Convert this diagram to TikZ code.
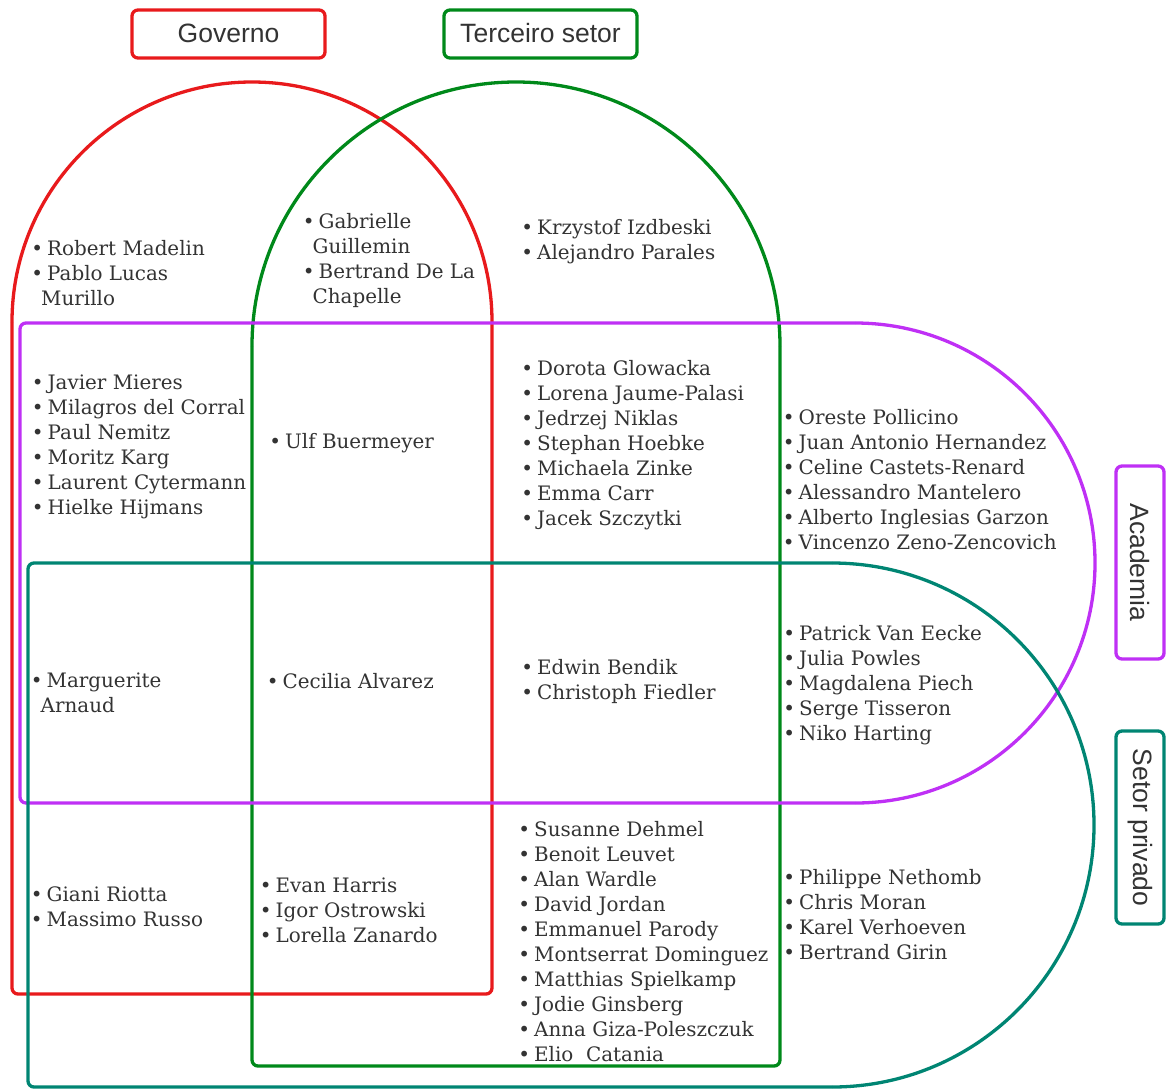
\documentclass[tikz,border=0pt]{standalone}
\usepackage{fontspec}
\setmainfont{DejaVu Serif}
\newfontfamily\labfont{Liberation Sans}
\definecolor{cgov}{HTML}{E81A1C}
\definecolor{cter}{HTML}{00891A}
\definecolor{caca}{HTML}{BF30F5}
\definecolor{cpri}{HTML}{008573}
\definecolor{ctext}{HTML}{333333}
\newcommand\bu{\strut\hbox to 13pt{\hbox to 6pt{\hss•\hss}\hss}}
\newcommand\cont{\strut\hspace*{7pt}}
\begin{document}
\begin{tikzpicture}[x=1pt,y=-1pt,
  shapeline/.style={line width=3.3pt},
  labbox/.style={draw, line width=3.3pt, rounded corners=6pt, minimum width=193pt,
    minimum height=48pt, inner sep=0pt, text=ctext, font=\labfont\fontsize{26.5}{30}\selectfont},
  names/.style={anchor=west, align=left, inner sep=0pt, text=ctext,
    font=\fontsize{19.9}{25}\selectfont}]
\useasboundingbox (0,0) rectangle (1166,1088);
% Governo
\draw[shapeline, cgov, rounded corners=6pt] (12,322) -- (12,994) -- (492,994) -- (492,322);
\draw[shapeline, cgov] (492,322) arc[start angle=0, end angle=-180, radius=240];
% Terceiro setor
\draw[shapeline, cter, rounded corners=6pt] (252,346) -- (252,1066) -- (780,1066) -- (780,346);
\draw[shapeline, cter] (780,346) arc[start angle=0, end angle=-180, radius=264];
% Academia
\draw[shapeline, caca, rounded corners=6pt] (855,323) -- (20,323) -- (20,803) -- (855,803);
\draw[shapeline, caca] (855,803) arc[start angle=90, end angle=-90, radius=240];
% Setor privado
\draw[shapeline, cpri, rounded corners=6pt] (832,563) -- (28,563) -- (28,1087) -- (832,1087);
\draw[shapeline, cpri] (832,1087) arc[start angle=90, end angle=-90, radius=262];
% labels
\node[labbox, draw=cgov] (lgov) at (228.5,34) {\raisebox{1.5pt}{Governo}};
\node[labbox, draw=cter] (lter) at (540.5,34) {\raisebox{1.5pt}{Terceiro setor}};
\node[labbox, draw=caca, rotate=-90] (laca) at (1140,562.5) {Academia};
\node[labbox, draw=cpri, rotate=-90] (lpri) at (1140,827.5) {Setor privado};
% names
\node[names] (g) at (34,275) {\bu Robert Madelin\\\bu Pablo Lucas\\\cont Murillo};
\node[names] (gt) at (305.5,261) {\bu Gabrielle\\\cont Guillemin\\\bu Bertrand De La\\\cont Chapelle};
\node[names] (t) at (524,242) {\bu Krzystof Izdbeski\\\bu Alejandro Parales};
\node[names] (ga) at (34.5,447) {\bu Javier Mieres\\\bu Milagros del Corral\\\bu Paul Nemitz\\\bu Moritz Karg\\\bu Laurent Cytermann\\\bu Hielke Hijmans};
\node[names] (gta) at (272,443) {\bu Ulf Buermeyer};
\node[names] (ta) at (524,445) {\bu Dorota Glowacka\\\bu Lorena Jaume-Palasi\\\bu Jedrzej Niklas\\\bu Stephan Hoebke\\\bu Michaela Zinke\\\bu Emma Carr\\\bu Jacek Szczytki};
\node[names] (a) at (785.5,482) {\bu Oreste Pollicino\\\bu Juan Antonio Hernandez\\\bu Celine Castets-Renard\\\bu Alessandro Mantelero\\\bu Alberto Inglesias Garzon\\\bu Vincenzo Zeno-Zencovich};
\node[names] (gap) at (33.5,695) {\bu Marguerite\\\cont Arnaud};
\node[names] (gtap) at (269.5,683) {\bu Cecilia Alvarez};
\node[names] (tap) at (524,682) {\bu Edwin Bendik\\\bu Christoph Fiedler};
\node[names] (ap) at (786,685) {\bu Patrick Van Eecke\\\bu Julia Powles\\\bu Magdalena Piech\\\bu Serge Tisseron\\\bu Niko Harting};
\node[names] (gp) at (33.5,909) {\bu Giani Riotta\\\bu Massimo Russo};
\node[names] (gtp) at (262.5,912) {\bu Evan Harris\\\bu Igor Ostrowski\\\bu Lorella Zanardo};
\node[names] (tp) at (521,944) {\bu Susanne Dehmel\\\bu Benoit Leuvet\\\bu Alan Wardle\\\bu David Jordan\\\bu Emmanuel Parody\\\bu Montserrat Dominguez\\\bu Matthias Spielkamp\\\bu Jodie Ginsberg\\\bu Anna Giza-Poleszczuk\\\bu Elio~ Catania};
\node[names] (p) at (786,917) {\bu Philippe Nethomb\\\bu Chris Moran\\\bu Karel Verhoeven\\\bu Bertrand Girin};
\end{tikzpicture}
\end{document}
